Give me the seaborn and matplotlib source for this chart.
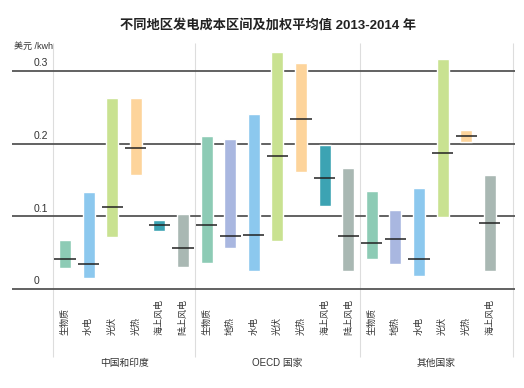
import numpy as np
import pandas as pd
import seaborn as sns
import matplotlib.pyplot as plt
from matplotlib import transforms

# data (USD/kWh)
groups = ['中国和印度', 'OECD 国家', '其他国家']
china_india_techs = ['生物质', '水电', '光伏', '光热', '海上风电', '陆上风电']
oecd_techs = ['生物质', '地热', '水电', '光伏', '光热', '海上风电', '陆上风电']
other_techs = ['生物质', '地热', '水电', '光伏', '光热', '海上风电']

china_india_low = [0.029, 0.015, 0.072, 0.157, 0.080, 0.030]
china_india_high = [0.067, 0.133, 0.263, 0.263, 0.095, 0.103]
china_india_mean = [0.041, 0.034, 0.113, 0.194, 0.088, 0.056]

oecd_low = [0.036, 0.056, 0.025, 0.066, 0.161, 0.114, 0.025]
oecd_high = [0.210, 0.206, 0.241, 0.326, 0.311, 0.198, 0.166]
oecd_mean = [0.088, 0.073, 0.074, 0.183, 0.234, 0.153, 0.073]

other_low = [0.041, 0.034, 0.018, 0.099, 0.202, 0.025]
other_high = [0.135, 0.109, 0.139, 0.316, 0.219, 0.157]
other_mean = [0.063, 0.069, 0.041, 0.187, 0.210, 0.091]

y_ticks = [0, 0.1, 0.2, 0.3]

# build one table
df = pd.concat([
    pd.DataFrame({'group': groups[0], 'tech': china_india_techs, 'low': china_india_low,
                  'high': china_india_high, 'mean': china_india_mean}),
    pd.DataFrame({'group': groups[1], 'tech': oecd_techs, 'low': oecd_low,
                  'high': oecd_high, 'mean': oecd_mean}),
    pd.DataFrame({'group': groups[2], 'tech': other_techs, 'low': other_low,
                  'high': other_high, 'mean': other_mean}),
], ignore_index=True)
df['pos'] = np.arange(len(df))

# styles
tech_colors = {'生物质': '#8dcbb5', '地热': '#a9b7e0', '水电': '#8cc8ee', '光伏': '#c9e291',
               '光热': '#fdd49b', '海上风电': '#3ca3b3', '陆上风电': '#a9b8b3'}
bar_colors = [tech_colors[t] for t in df['tech']]
bar_colors[-1] = tech_colors['陆上风电']  # last bar is drawn grey in the original

sns.set_theme(style='white')
plt.rcParams['font.family'] = ['Liberation Sans', 'Noto Sans CJK SC', 'DejaVu Sans']

fig = plt.figure(figsize=(5.24, 3.88), dpi=100)
ax = fig.add_axes([12 / 524, 96 / 388, 503 / 524, 243 / 388])
ax.set_xlim(-2.246, 19.07)
ax.set_ylim(-0.004, 0.33)

# horizontal reference lines
for v in y_ticks:
    ax.axhline(v, color='#555555', lw=1.3, zorder=1)

# cost ranges and weighted averages
ax.bar(df['pos'], df['high'] - df['low'], bottom=df['low'], width=0.51,
       color=bar_colors, zorder=2)
ax.hlines(df['mean'], df['pos'] - 0.45, df['pos'] + 0.45, color='#222222', lw=1.1, zorder=3)

# group separators (extend into the label area)
edges = [-0.5]
for g in groups:
    edges.append(df.loc[df['group'] == g, 'pos'].max() + 0.5)
edges[-1] = df['pos'].max() + 0.98
ax.vlines(edges, -0.0935, 0.338, color='#dddddd', lw=0.8, clip_on=False, zorder=0)

# category labels
for _, r in df.iterrows():
    ax.text(r['pos'], -0.0633, r['tech'], rotation=90, ha='center', va='bottom',
            fontsize=6.5, color='#333333', clip_on=False)

# group labels
for g, a, b in zip(groups, edges[:-1], edges[1:]):
    ax.text((a + b) / 2, -0.102, g, ha='center', va='center', fontsize=7,
            color='#333333', clip_on=False)

# y tick labels above each line
trans = transforms.blended_transform_factory(ax.transAxes, ax.transData)
for v in y_ticks:
    lab = '0' if v == 0 else f'{v:.1f}'
    ax.text(22 / 503, v + 0.0105, lab, transform=trans, ha='left', va='center',
            fontsize=7.5, color='#333333')

ax.set_xticks([])
ax.set_yticks([])
for s in ax.spines.values():
    s.set_visible(False)

fig.text(14 / 524, 1 - 46 / 388, '美元 /kwh', fontsize=6.5, color='#333333', ha='left', va='center')
fig.text(268 / 524, 1 - 25 / 388, '不同地区发电成本区间及加权平均值 2013-2014 年',
         fontsize=9.5, fontweight='bold', ha='center', va='center', color='#222222')

fig.savefig('out.png', dpi=100)
